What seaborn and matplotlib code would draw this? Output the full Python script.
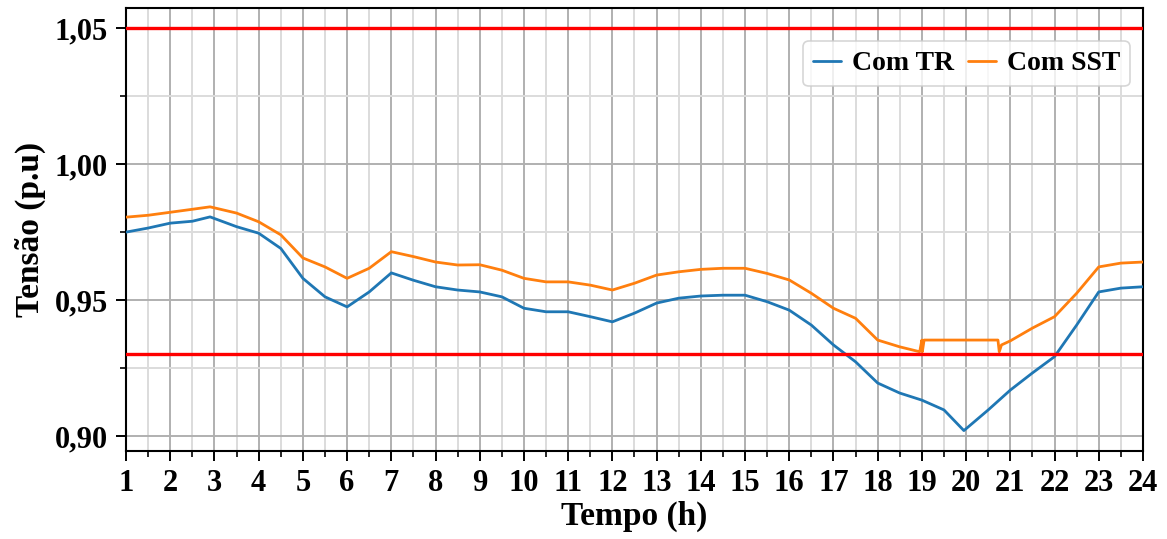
import numpy as np
import pandas as pd
import matplotlib
matplotlib.use("Agg")
import matplotlib.pyplot as plt
import seaborn as sns
from matplotlib.ticker import MultipleLocator, FuncFormatter

# ---------------------------------------------------------------
# Data
# ---------------------------------------------------------------
tempo_tr = [1, 1.5, 2, 2.5, 2.9, 3.5, 4, 4.5, 5, 5.5, 6, 6.5, 7, 7.5, 8, 8.5,
            9, 9.5, 10, 10.5, 11, 11.5, 12, 12.5, 13, 13.5, 14, 14.5, 15, 15.5,
            16, 16.5, 17, 17.5, 18, 18.5, 19, 19.5, 19.95, 20.5, 21, 21.5, 22,
            22.5, 23, 23.5, 24]
tensao_tr = [0.975, 0.9765, 0.9783, 0.979, 0.9806, 0.977, 0.9746, 0.969, 0.958,
             0.9512, 0.9475, 0.953, 0.960, 0.9573, 0.9549, 0.9537, 0.953, 0.9512,
             0.947, 0.9457, 0.9457, 0.9439, 0.942, 0.9452, 0.9489, 0.9507, 0.9515,
             0.9518, 0.9518, 0.9494, 0.9463, 0.9408, 0.9335, 0.9273, 0.9195,
             0.9158, 0.9132, 0.9096, 0.902, 0.9096, 0.9169, 0.9232, 0.9292,
             0.9408, 0.953, 0.9544, 0.9549]

tempo_sst = [1, 1.5, 2, 2.5, 2.9, 3.5, 4, 4.5, 5, 5.5, 6, 6.5, 7, 7.5, 8, 8.5,
             9, 9.5, 10, 10.5, 11, 11.5, 12, 12.5, 13, 13.5, 14, 14.5, 15, 15.5,
             16, 16.5, 17, 17.5, 18, 18.5, 18.95, 19.0, 19.01, 19.05, 20.72,
             20.75, 20.8, 21, 21.5, 22, 22.5, 23, 23.5, 24]
tensao_sst = [0.9805, 0.9812, 0.9823, 0.9834, 0.9843, 0.982, 0.9788, 0.974,
              0.9655, 0.9622, 0.958, 0.9617, 0.9678, 0.966, 0.964, 0.9629,
              0.963, 0.961, 0.958, 0.9567, 0.9567, 0.9555, 0.9537, 0.9562,
              0.9592, 0.9604, 0.9613, 0.9617, 0.9617, 0.9598, 0.9574, 0.9525,
              0.947, 0.9433, 0.9353, 0.9328, 0.931, 0.9353, 0.931, 0.9353,
              0.9353, 0.931, 0.9335, 0.935, 0.9397, 0.9439, 0.9525, 0.9622,
              0.9636, 0.964]

limite_sup = 1.05
limite_inf = 0.93

df = pd.concat([
    pd.DataFrame({"Tempo": tempo_tr, "Tensao": tensao_tr, "Caso": "Com TR"}),
    pd.DataFrame({"Tempo": tempo_sst, "Tensao": tensao_sst, "Caso": "Com SST"}),
], ignore_index=True)

# ---------------------------------------------------------------
# Style
# ---------------------------------------------------------------
sns.set_style("white")
plt.rcParams["font.family"] = ["Liberation Serif", "DejaVu Serif"]
plt.rcParams["font.weight"] = "bold"
plt.rcParams["axes.labelweight"] = "bold"
plt.rcParams["text.color"] = "black"
plt.rcParams["axes.labelcolor"] = "black"
plt.rcParams["xtick.color"] = "black"
plt.rcParams["ytick.color"] = "black"

fig = plt.figure(figsize=(11.67, 5.39), dpi=100)
ax = fig.add_axes([0.108, 0.1633, 0.8714, 0.8217])

sns.lineplot(data=df, x="Tempo", y="Tensao", hue="Caso", sort=False,
             palette=["#1f77b4", "#ff7f0e"], linewidth=2.0, ax=ax, zorder=3)

ax.axhline(limite_sup, color="red", linewidth=2.4, zorder=4)
ax.axhline(limite_inf, color="red", linewidth=2.4, zorder=4)

ax.set_xlim(1, 24)
ax.set_ylim(0.8945, 1.0574)
ax.xaxis.set_major_locator(MultipleLocator(1))
ax.xaxis.set_minor_locator(MultipleLocator(0.5))
ax.yaxis.set_major_locator(MultipleLocator(0.05))
ax.yaxis.set_minor_locator(MultipleLocator(0.025))
ax.yaxis.set_major_formatter(FuncFormatter(lambda v, p: f"{v:.2f}".replace(".", ",")))

ax.grid(True, which="major", color="#b0b0b0", linewidth=1.4, zorder=0)
ax.grid(True, which="minor", color="#dcdcdc", linewidth=1.4, zorder=0)
ax.set_axisbelow(True)

ax.tick_params(which="major", direction="out", length=7, width=1.4,
               labelsize=22, left=True, bottom=True, pad=6)
ax.tick_params(which="minor", direction="out", length=4, width=1.2,
               left=True, bottom=True)
for lab in ax.get_xticklabels() + ax.get_yticklabels():
    lab.set_fontweight("bold")

for s in ax.spines.values():
    s.set_color("black")
    s.set_linewidth(1.5)

ax.set_xlabel("Tempo (h)", fontsize=24, fontweight="bold", labelpad=2)
ax.set_ylabel("Tensão (p.u)", fontsize=24, fontweight="bold", labelpad=6)

leg = ax.legend(loc="upper right", ncol=2, fontsize=20, frameon=True,
                fancybox=True, handlelength=1.0, handletextpad=0.4,
                columnspacing=0.5, borderpad=0.35, borderaxespad=0,
                bbox_to_anchor=(0.987, 0.925))
leg.get_frame().set_edgecolor("#cccccc")
leg.get_frame().set_linewidth(1.2)
for t in leg.get_texts():
    t.set_fontweight("bold")

fig.savefig("out.png", dpi=100)
